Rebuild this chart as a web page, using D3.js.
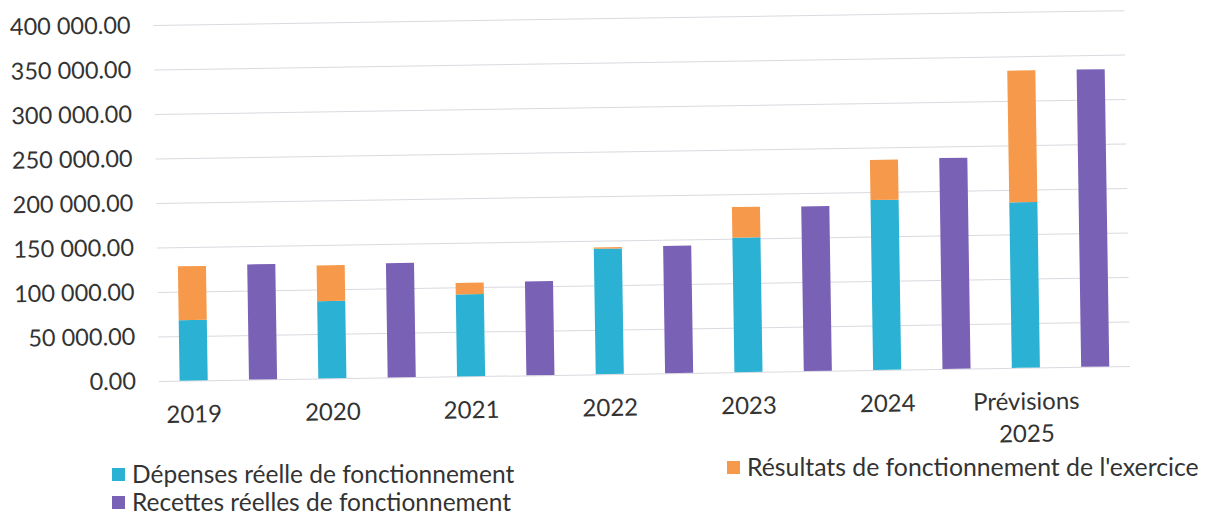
<!DOCTYPE html>
<html>
<head>
<meta charset="utf-8">
<script src="https://cdn.jsdelivr.net/npm/d3@7"></script>
<style>
  html, body { margin: 0; padding: 0; background: #ffffff; }
  svg { display: block; font-family: Lato, "Open Sans", sans-serif; }
</style>
</head>
<body>
<svg id="chart" width="1211" height="517"></svg>
<script>
// ---- Data ----
const categories = ["2019", "2020", "2021", "2022", "2023", "2024", "Prévisions 2025"];
const depenses   = [68000, 87000, 92000, 141000, 151000, 191000, 186000];   // Dépenses réelle de fonctionnement
const resultats  = [60500, 40000, 13000, 1500, 34500, 45000, 148000];      // Résultats de fonctionnement de l'exercice
const recettes   = [129500, 128500, 105500, 143000, 185000, 237000, 334000]; // Recettes réelles de fonctionnement
const yTicks     = [0, 50000, 100000, 150000, 200000, 250000, 300000, 350000, 400000];
const seriesNames = ["Dépenses réelle de fonctionnement", "Recettes réelles de fonctionnement", "Résultats de fonctionnement de l'exercice"];

const colors = { dep: "#2ab1d3", rec: "#7961b5", res: "#f6994a" };

const svg = d3.select("#chart");
const margin = { left: 159, right: 1130, top: 25, bottom: 381 };

// slight tilt of the scanned page
const root = svg.append("g").attr("transform", `rotate(-0.88, ${margin.left}, ${margin.bottom})`);

const y = d3.scaleLinear().domain([0, 400000]).range([margin.bottom, margin.top]);
const x = d3.scaleBand().domain(categories).range([margin.left, margin.right]).paddingInner(0).paddingOuter(0);
const sub = d3.scaleBand().domain(["stack", "rec"]).range([0, x.bandwidth()]).paddingInner(0.595).paddingOuter(0.2975);

const loc = d3.formatLocale({ decimal: ".", thousands: " ", grouping: [3], currency: ["", ""] });
const fmt = loc.format(",.2f");

// gridlines + y labels
const yAxis = d3.axisLeft(y).tickValues(yTicks).tickSize(-(margin.right - margin.left)).tickFormat(fmt).tickPadding(23);
const gy = root.append("g").attr("transform", `translate(${margin.left},0)`).call(yAxis);
gy.select(".domain").remove();
gy.selectAll(".tick line").attr("stroke", "#d9d9e0").attr("stroke-width", 1);
gy.selectAll(".tick text").attr("fill", "#333333").style("font-size", "23.5px").style("font-family", "Lato, sans-serif");

// stacked bars (dépenses + résultats)
const stackData = categories.map((c, i) => ({ cat: c, dep: depenses[i], res: resultats[i] }));
const stacked = d3.stack().keys(["dep", "res"])(stackData);
root.append("g").selectAll("g").data(stacked).join("g")
  .attr("fill", d => colors[d.key])
  .selectAll("rect").data(d => d).join("rect")
  .attr("x", d => x(d.data.cat) + sub("stack"))
  .attr("width", sub.bandwidth())
  .attr("y", d => y(d[1]))
  .attr("height", d => y(d[0]) - y(d[1]));

// recettes bars
root.append("g").attr("fill", colors.rec).selectAll("rect").data(categories).join("rect")
  .attr("x", c => x(c) + sub("rec"))
  .attr("width", sub.bandwidth())
  .attr("y", (c, i) => y(recettes[i]))
  .attr("height", (c, i) => y(0) - y(recettes[i]));

// x labels, centred under the stacked bars
const xl = root.append("g").selectAll("text").data(categories).join("text")
  .attr("text-anchor", "middle")
  .attr("fill", "#333333")
  .style("font-size", "24px")
  .attr("transform", c => `translate(${x(c) + sub("stack") + sub.bandwidth() / 2},${margin.bottom + 42})`);
xl.each(function (c) {
  const parts = c.split(" ");
  const t = d3.select(this);
  parts.forEach((p, k) => {
    t.append("tspan").attr("x", 0).attr("dy", k === 0 ? 0 : "1.35em").text(p);
  });
});

// legend
const legendItems = [
  { name: seriesNames[0], color: colors.dep, x: 112, y: 474, size: 24.5 },
  { name: seriesNames[1], color: colors.rec, x: 112, y: 502, size: 24.5 },
  { name: seriesNames[2], color: colors.res, x: 727, y: 467, size: 24.8 }
];
const lg = svg.append("g").selectAll("g").data(legendItems).join("g")
  .attr("transform", d => `translate(${d.x},${d.y})`);
lg.append("rect").attr("x", 0).attr("y", -6).attr("width", 13).attr("height", 13).attr("fill", d => d.color);
lg.append("text").attr("x", 20).attr("y", 0).attr("dy", "0.35em")
  .attr("fill", "#333333").style("font-size", d => d.size + "px").text(d => d.name);
</script>
</body>
</html>
